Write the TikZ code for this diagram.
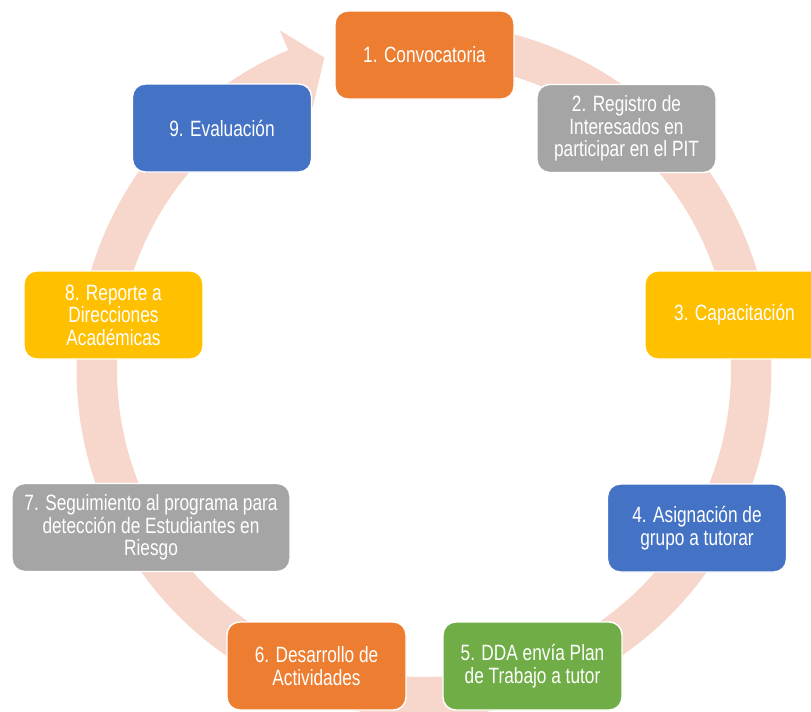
\documentclass[tikz,border=0pt]{standalone}
\usepackage{fontspec}
\setmainfont{Liberation Sans}[FakeStretch=0.78]
\definecolor{cOrange}{HTML}{ED7D31}
\definecolor{cGray}{HTML}{A5A5A5}
\definecolor{cGold}{HTML}{FFC000}
\definecolor{cBlue}{HTML}{4472C4}
\definecolor{cGreen}{HTML}{70AD47}
\definecolor{cRing}{HTML}{F7D6CB}
\begin{document}
\begin{tikzpicture}[x=0.75pt,y=-0.75pt,
  stepbox/.style={rounded corners=9.5pt, draw=white, line width=1.1pt, text=white,
    align=center, inner sep=0pt, minimum width=134.25pt, minimum height=66pt,
    font=\fontsize{16.6}{16.8}\selectfont},
  ringfill/.style={fill=cRing}]
\useasboundingbox (0,0) rectangle (811,711);
\begin{scope}[shift={(424,370)}]
  \fill[ringfill]
    plot[domain=-88:247,samples=200] ({347.5*cos(\x)},{347.5*sin(\x)})
    -- (247:369) -- (252.3:328) -- (247:285)
    -- plot[domain=247:-88,samples=200] ({307*cos(\x)},{307*sin(\x)})
    -- cycle;
\end{scope}
\node[stepbox, fill=cOrange] (n1) at (424.5,55) {1. Convocatoria};
\node[stepbox, fill=cGray] (n2) at (626.5,128.5) {2. Registro de\\Interesados en\\participar en el PIT};
\node[stepbox, fill=cGold] (n3) at (734.5,315) {3. Capacitación};
\node[stepbox, fill=cBlue] (n4) at (697,528) {4. Asignación de\\grupo a tutorar};
\node[stepbox, fill=cGreen] (n5) at (532.5,666) {5. DDA envía Plan\\de Trabajo a tutor};
\node[stepbox, fill=cOrange] (n6) at (316.5,666) {6. Desarrollo de\\Actividades};
\node[stepbox, fill=cGray, minimum width=208.5pt] (n7) at (151,527.5) {7. Seguimiento al programa para\\detección de Estudiantes en\\Riesgo};
\node[stepbox, fill=cGold] (n8) at (113.5,315) {8. Reporte a\\Direcciones\\Académicas};
\node[stepbox, fill=cBlue] (n9) at (222,128) {9. Evaluación};
\end{tikzpicture}
\end{document}
